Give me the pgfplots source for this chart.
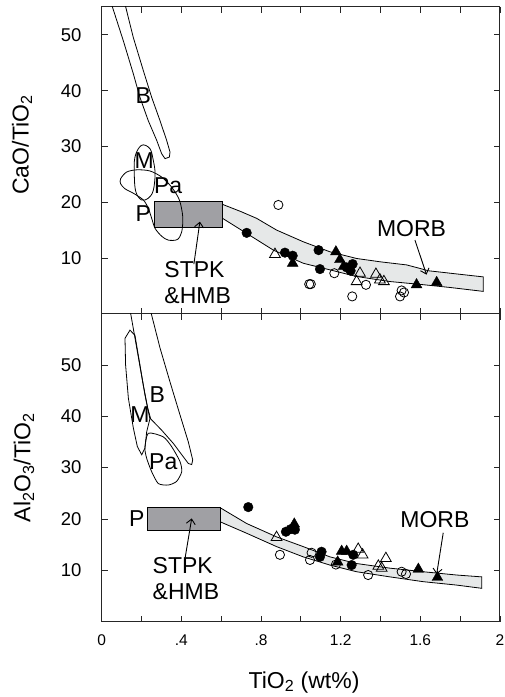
\documentclass[border=0pt]{standalone}
\usepackage{pgfplots}
\pgfplotsset{compat=1.18}
\usepackage{fontspec}
\setmainfont{Liberation Sans}
\usetikzlibrary{arrows.meta}

\definecolor{rectgray}{HTML}{A0A0A4}
\definecolor{bandgray}{HTML}{E6E8E8}

\newcommand{\lf}{\fontsize{23}{26}\selectfont}
\newcommand{\yf}{\fontsize{18.5}{21}\selectfont}
\newcommand{\xf}{\fontsize{15.5}{18}\selectfont}

\pgfplotsset{
  panel/.style={
    scale only axis, width=398.3pt,
    xmin=0, xmax=2,
    axis line style={line width=1pt, black!85},
    every tick/.append style={line width=0.8pt, black!85},
    major tick length=6pt,
    tick align=inside,
    xtick={0,0.2,0.4,0.6,0.8,1,1.2,1.4,1.6,1.8,2},
    ytick={10,20,30,40,50},
    yticklabels={10,20,30,40,50},
    every x tick label/.append style={font=\xf, inner sep=0pt, anchor=north, yshift=-13pt},
    every y tick label/.append style={font=\yf, inner sep=0pt, anchor=east, xshift=-20pt},
    label style={font=\lf},
  },
  fc/.style={only marks, mark=*, mark size=4.8pt, mark options={fill=black, draw=black}},
  oc/.style={only marks, mark=o, mark size=4.6pt, mark options={draw=black, line width=0.8pt}},
  ft/.style={only marks, mark=triangle*, mark size=6.2pt, mark options={fill=black, draw=black}},
  ot/.style={only marks, mark=triangle, mark size=6.2pt, mark options={draw=black, line width=0.8pt}},
  fld/.style={draw=black, line width=0.8pt, fill=none},
}

\begin{document}
\begin{tikzpicture}
\path[use as bounding box] (-101.7pt,-75.5pt) rectangle (403.3pt,621.5pt);

% ---------------- top panel ----------------
\begin{axis}[panel, at={(0pt,307.8pt)}, anchor=south west, height=306.7pt,
  ymin=0, ymax=55, xticklabels={},
  ylabel={CaO/TiO\textsubscript{2}},
  ylabel style={at={(axis description cs:-0.2,0.55)}, anchor=center}]
% B field
\addplot[fld] coordinates {(0.036,57) (0.0557,54.8) (0.109,48.9) (0.159,43.0) (0.192,38.8) (0.234,34.6) (0.276,31.1) (0.301,28.7) (0.318,27.8) (0.34,28.1) (0.343,29.0) (0.326,31.1) (0.293,34.6) (0.251,38.8) (0.209,43.6) (0.159,49.5) (0.122,54.8) (0.107,57)} -- cycle;
% MORB band
\addplot[draw=black, line width=0.8pt, fill=bandgray] coordinates {(0.607,19.6) (0.70,18.3) (0.778,17.1) (0.878,15.0) (1.012,12.9) (1.146,11.1) (1.28,9.9) (1.40,9.3) (1.531,8.75) (1.60,8.1) (1.64,7.7) (1.916,6.6) (1.916,4.0) (1.75,4.7) (1.615,5.2) (1.447,5.77) (1.28,6.67) (1.146,7.86) (1.012,9.05) (0.862,11.4) (0.728,14.4) (0.607,17.1)} -- cycle;
% STPK rectangle
\addplot[draw=black, line width=0.8pt, fill=rectgray] coordinates {(0.265,15.5) (0.605,15.5) (0.605,20.05) (0.265,20.05)} -- cycle;
% M field
\addplot[fld, smooth cycle, tension=0.6] coordinates {(0.2,30.2) (0.167,28.1) (0.164,24.5) (0.172,21.8) (0.2,20.4) (0.234,20.7) (0.259,22.1) (0.268,25.1) (0.259,27.5) (0.242,29.6)};
% Pa field
\addplot[fld, smooth cycle, tension=0.5] coordinates {(0.095,24.2) (0.125,25.4) (0.176,25.8) (0.242,25.6) (0.301,24.5) (0.351,22.7) (0.390,20.4) (0.407,17.4) (0.402,14.7) (0.380,13.3) (0.334,13.2) (0.301,13.9) (0.268,15.3) (0.251,17.1) (0.234,18.9) (0.209,20.4) (0.159,21.6) (0.117,22.4) (0.095,23.3)};
% data
\addplot[oc] coordinates {(0.887,19.5) (1.042,5.3) (1.050,5.3) (1.168,7.26) (1.327,5.18) (1.258,3.1) (1.506,4.17) (1.518,3.8) (1.498,3.1)};
\addplot[ot] coordinates {(0.870,10.65) (1.297,7.26) (1.280,5.77) (1.377,7.08) (1.397,6.07) (1.417,5.77)};
\addplot[fc] coordinates {(0.728,14.5) (0.920,10.95) (0.959,10.4) (1.089,11.4) (1.096,8.0) (1.230,8.3) (1.260,8.9) (1.250,7.7)};
\addplot[ft] coordinates {(1.176,11.1) (1.196,9.7) (0.959,9.05) (1.215,8.5) (1.581,5.2) (1.682,5.6)};
% labels
\node at (axis cs:0.209,39.2) {\lf B};
\node at (axis cs:0.214,27.5) {\lf M};
\node at (axis cs:0.334,23.0) {\lf Pa};
\node at (axis cs:0.209,18.0) {\lf P};
\node[align=left, font=\lf] at (axis cs:0.482,5.5) {STPK\\\&HMB};
\node at (axis cs:1.556,15.3) {\lf MORB};
\draw[line width=0.9pt, -{Straight Barb[length=5pt,width=9pt]}] (axis cs:0.463,8.9) -- (axis cs:0.493,16.5);
\draw[line width=0.9pt, -{Straight Barb[length=5pt,width=9pt]}] (axis cs:1.573,13.2) -- (axis cs:1.631,7.0);
\end{axis}

% ---------------- bottom panel ----------------
\begin{axis}[panel, at={(0pt,0pt)}, anchor=south west, height=307.8pt,
  ymin=0, ymax=60,
  xticklabels={0,,.4,,.8,,1.2,,1.6,,2},
  xlabel={TiO\textsubscript{2} (wt\%)},
  xlabel style={at={(axis description cs:0.508,-0.197)}, anchor=center},
  ylabel={Al\textsubscript{2}O\textsubscript{3}/TiO\textsubscript{2}},
  ylabel style={at={(axis description cs:-0.195,0.50)}, anchor=center}]
% B field
\addplot[fld] coordinates {(0.141,61) (0.147,59.7) (0.176,53.3) (0.206,46.7) (0.231,41.6) (0.246,39.5) (0.301,37.3) (0.360,34.7) (0.410,32.1) (0.435,30.8) (0.452,30.6) (0.457,31.5) (0.435,35.0) (0.393,40.3) (0.343,46.7) (0.293,53.3) (0.251,59.7) (0.242,61)} -- cycle;
% M field
\addplot[fld] coordinates {(0.142,56.8) (0.117,55.2) (0.120,50.0) (0.134,43.5) (0.159,37.7) (0.179,34.1) (0.201,32.5) (0.217,33.8) (0.226,37.0) (0.242,39.5) (0.217,44.2) (0.192,50.0) (0.167,55.8)} -- cycle;
% Pa field
\addplot[fld, smooth cycle, tension=0.4] coordinates {(0.234,36.7) (0.309,36.0) (0.351,34.1) (0.393,31.2) (0.402,29.2) (0.376,27.3) (0.334,26.6) (0.284,26.9) (0.251,29.2) (0.226,31.8) (0.217,33.8)};
% MORB band
\addplot[draw=black, line width=0.8pt, fill=bandgray] coordinates {(0.594,22.2) (0.728,19.1) (0.878,16.5) (1.012,14.6) (1.146,12.6) (1.280,11.3) (1.447,10.4) (1.615,9.7) (1.782,9.06) (1.908,8.7) (1.908,6.47) (1.782,7.1) (1.615,7.76) (1.447,8.7) (1.28,9.7) (1.146,11.0) (1.012,12.6) (0.878,14.6) (0.728,17.2) (0.594,19.45)} -- cycle;
% STPK rectangle
\addplot[draw=black, line width=0.8pt, fill=rectgray] coordinates {(0.229,17.8) (0.594,17.8) (0.594,22.3) (0.229,22.3)} -- cycle;
% data
\addplot[oc] coordinates {(0.895,13.0) (1.054,13.4) (1.046,12.0) (1.176,11.1) (1.338,9.06) (1.506,9.7) (1.528,9.26)};
\addplot[ot] coordinates {(0.878,16.4) (1.288,14.1) (1.310,13.0) (1.427,12.3) (1.389,10.8) (1.406,10.4)};
\addplot[fc] coordinates {(0.736,22.3) (0.925,17.5) (0.949,18.0) (0.97,17.9) (1.104,13.6) (1.096,12.6) (1.263,13.0) (1.255,11.0)};
\addplot[ft] coordinates {(0.967,19.0) (1.205,13.7) (1.230,13.7) (1.185,11.6) (1.590,10.2) (1.686,8.6)};
% labels
\node at (axis cs:0.279,44.2) {\lf B};
\node at (axis cs:0.192,40.3) {\lf M};
\node at (axis cs:0.309,31.2) {\lf Pa};
\node at (axis cs:0.176,20.1) {\lf P};
\node[align=left, font=\lf] at (axis cs:0.423,8.45) {STPK\\\&HMB};
\node at (axis cs:1.673,19.9) {\lf MORB};
\draw[line width=0.9pt, -{Straight Barb[length=5pt,width=9pt]}] (axis cs:0.418,12.2) -- (axis cs:0.452,20.1);
\draw[line width=0.9pt, -{Straight Barb[length=5pt,width=9pt]}] (axis cs:1.715,17.3) -- (axis cs:1.682,9.2);
\end{axis}
\end{tikzpicture}
\end{document}
